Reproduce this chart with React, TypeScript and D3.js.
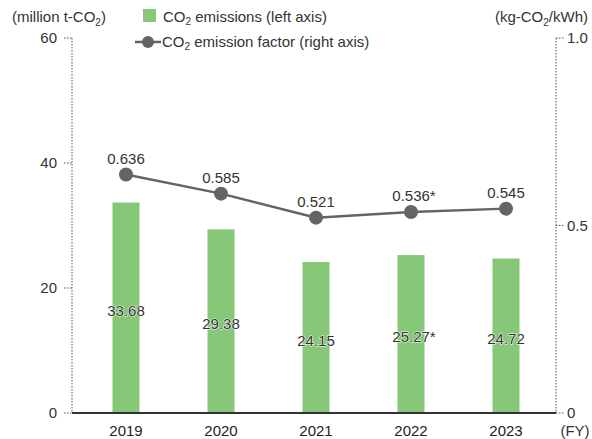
import React from "react";
import * as d3 from "d3";

const years = ["2019", "2020", "2021", "2022", "2023"];
const emissions = [33.68, 29.38, 24.15, 25.27, 24.72];
const emissionLabels = ["33.68", "29.38", "24.15", "25.27*", "24.72"];
const factors = [0.636, 0.585, 0.521, 0.536, 0.545];
const factorLabels = ["0.636", "0.585", "0.521", "0.536*", "0.545"];
const leftTicks = [0, 20, 40, 60];
const rightTicks = [0, 0.5, 1.0];
const rightTickLabels = ["0", "0.5", "1.0"];

const W = 592;
const H = 439;
const axL = 72;
const axR = 556;
const y0 = 413;
const yTop = 38;
const FONT = "'Liberation Sans', Arial, sans-serif";
const GREEN = "#86c878";
const GREY = "#646468";
const TXT = "#333";

export default function App() {
  const x = d3.scalePoint<string>().domain(years).range([126, 506]);
  const yL = d3.scaleLinear().domain([0, 60]).range([y0, yTop]);
  const yR = d3.scaleLinear().domain([0, 1]).range([y0, yTop]);
  const barW = 27;
  const line = d3
    .line<number>()
    .x((_, i) => x(years[i])!)
    .y((d) => yR(d));

  return (
    <svg width={W} height={H} style={{ position: "absolute", left: 0, top: 0 }} fontFamily={FONT}>
      {/* axes */}
      <line x1={axL} x2={axL} y1={yTop} y2={y0} stroke="#555" strokeWidth={1} strokeDasharray="1.5 1.5" />
      <line x1={axR} x2={axR} y1={yTop} y2={y0} stroke="#555" strokeWidth={1} strokeDasharray="1.5 1.5" />
      {leftTicks.map((t) => (
        <g key={"l" + t}>
          <line x1={axL - 8} x2={axL} y1={yL(t)} y2={yL(t)} stroke="#555" strokeDasharray="1.5 1.5" />
          <text x={57} y={yL(t) + 5} textAnchor="end" fontSize={15} fill={TXT}>{t}</text>
        </g>
      ))}
      {rightTicks.map((t, i) => (
        <g key={"r" + t}>
          <line x1={axR} x2={axR + 8} y1={yR(t)} y2={yR(t)} stroke="#555" strokeDasharray="1.5 1.5" />
          <text x={567} y={yR(t) + 5} textAnchor="start" fontSize={15} fill={TXT}>{rightTickLabels[i]}</text>
        </g>
      ))}
      {/* bars */}
      {emissions.map((v, i) => (
        <rect key={"b" + i} x={x(years[i])! - barW / 2} y={yL(v)} width={barW} height={y0 - yL(v)} fill={GREEN} />
      ))}
      <line x1={axL} x2={axR} y1={y0} y2={y0} stroke="#333" strokeWidth={2} />
      {/* bar labels */}
      {emissions.map((v, i) => (
        <text
          key={"bl" + i}
          x={x(years[i])! + (emissionLabels[i].endsWith("*") ? 3 : 0)}
          y={(yL(v) + y0) / 2 + 8}
          textAnchor="middle"
          fontSize={15}
          fill={TXT}
          stroke="#fff"
          strokeWidth={1}
          paintOrder="stroke"
        >
          {emissionLabels[i]}
        </text>
      ))}
      {/* line */}
      <path d={line(factors)!} fill="none" stroke={GREY} strokeWidth={2.5} />
      {factors.map((v, i) => (
        <circle key={"c" + i} cx={x(years[i])!} cy={yR(v)} r={7} fill={GREY} />
      ))}
      {factors.map((v, i) => (
        <text
          key={"fl" + i}
          x={x(years[i])! + (factorLabels[i].endsWith("*") ? 3 : 0)}
          y={yR(v) - 11}
          textAnchor="middle"
          fontSize={15}
          fill={TXT}
        >
          {factorLabels[i]}
        </text>
      ))}
      {/* x labels */}
      {years.map((yr) => (
        <text key={yr} x={x(yr)!} y={436} textAnchor="middle" fontSize={15} fill="#222">{yr}</text>
      ))}
      <text x={575} y={436} textAnchor="middle" fontSize={15} fill={TXT}>(FY)</text>
      {/* axis titles */}
      <text x={12} y={22} fontSize={15} fill={TXT}>
        (million t-CO<tspan fontSize={10} dy={4}>2</tspan><tspan dy={-4}>)</tspan>
      </text>
      <text x={588} y={22} fontSize={15} fill={TXT} textAnchor="end">
        (kg-CO<tspan fontSize={10} dy={4}>2</tspan><tspan dy={-4}>/kWh)</tspan>
      </text>
      {/* legend */}
      <rect x={143} y={9} width={13} height={13} fill={GREEN} />
      <text x={163} y={22} fontSize={15} fill={TXT}>
        CO<tspan fontSize={10} dy={3}>2</tspan><tspan dy={-3}> emissions (left axis)</tspan>
      </text>
      <line x1={135} x2={161} y1={42} y2={42} stroke={GREY} strokeWidth={2.5} />
      <circle cx={148} cy={42} r={6} fill={GREY} />
      <text x={162} y={47} fontSize={15} fill={TXT}>
        CO<tspan fontSize={10} dy={3}>2</tspan><tspan dy={-3}> emission factor (right axis)</tspan>
      </text>
    </svg>
  );
}
